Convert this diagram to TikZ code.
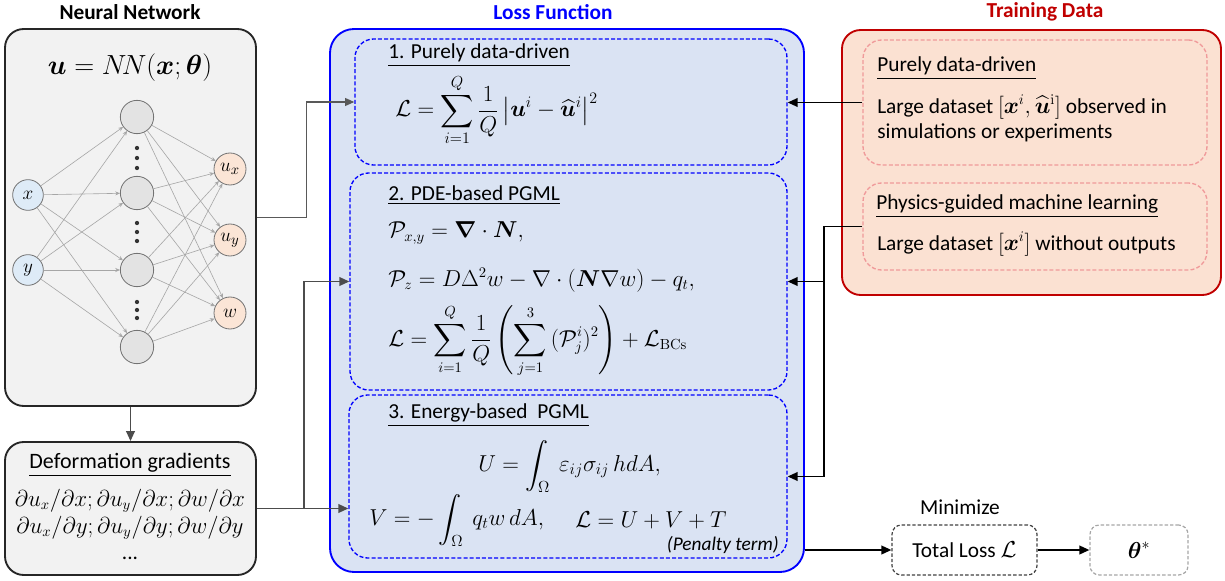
\documentclass[tikz,border=0pt]{standalone}
\usepackage[no-math]{fontspec}
\setmainfont{Carlito}
\usepackage{amsmath,bm}
\usetikzlibrary{arrows.meta,fit,calc}
\definecolor{nngray}{HTML}{F2F2F2}
\definecolor{lossfill}{HTML}{DAE3F3}
\definecolor{datafill}{HTML}{FBE1D2}
\definecolor{datared}{HTML}{C00000}
\definecolor{pinkdash}{HTML}{F09A9A}
\definecolor{infill}{HTML}{DEEBF7}
\definecolor{outfill}{HTML}{FBE5D6}
\definecolor{hidfill}{HTML}{E3E3E3}
\definecolor{lossblue}{HTML}{0000FF}
\begin{document}
\begin{tikzpicture}[x=0.75pt,y=-0.75pt,
  every node/.style={font=\fontsize{16}{19}\selectfont},
  ttl/.style={font=\bfseries\fontsize{16}{19}\selectfont},
  nnbox/.style={draw=black!85, fill=nngray, line width=1.4pt, rounded corners=14pt, inner sep=0pt},
  lossbox/.style={draw=lossblue, fill=lossfill, line width=1.4pt, rounded corners=18pt, inner sep=0pt},
  dbox/.style={draw=lossblue, line width=1pt, dash pattern=on 3pt off 1.6pt, rounded corners=14pt, inner sep=0pt},
  databox/.style={draw=datared, fill=datafill, line width=1.4pt, rounded corners=14pt, inner sep=0pt},
  pinkbox/.style={draw=pinkdash, line width=1pt, dash pattern=on 3pt off 1.6pt, rounded corners=14pt, inner sep=0pt},
  tlbox/.style={draw=black!75, line width=0.9pt, dash pattern=on 2.5pt off 1.5pt, rounded corners=7pt, inner sep=0pt},
  thbox/.style={draw=black!35, line width=0.9pt, dash pattern=on 2.5pt off 1.5pt, rounded corners=7pt, inner sep=0pt},
  neuron/.style={circle, draw=black!55, line width=0.6pt, inner sep=0pt, font=\fontsize{15}{17}\selectfont},
  innode/.style={neuron, fill=infill, minimum size=23pt},
  hidnode/.style={neuron, fill=hidfill, minimum size=25pt},
  outnode/.style={neuron, fill=outfill, minimum size=24pt},
  nnedge/.style={draw=black!35, line width=0.45pt, -{Stealth[length=3.5pt,width=3pt]}},
  connthin/.style={draw=black!65, line width=0.8pt, -{Triangle[length=7pt,width=6pt]}},
  conngray/.style={draw=black!70, line width=1.3pt, -{Triangle[length=7.5pt,width=6.5pt]}},
  connblk/.style={draw=black, line width=1.3pt, -{Triangle[length=7.5pt,width=6.5pt]}},
  txt/.style={anchor=west, inner sep=0pt},
  mathbig/.style={anchor=west, inner sep=0pt, font=\fontsize{16}{18}\selectfont},
  dotc/.style={circle, fill=black!80, inner sep=0pt, minimum size=3.2pt}
]
\useasboundingbox (0,0) rectangle (1225,581);

% titles
\node[ttl] (tnn) at (130,12) {Neural Network};
\node[ttl, text=lossblue] (tloss) at (553,12) {Loss Function};
\node[ttl, text=datared] (tdata) at (1045,12) {Training Data};

% main panels
\node[nnbox, fit={(5,29)(256,406)}] (nn) {};
\node[nnbox, fit={(5,442)(256,575)}] (def) {};
\node[lossbox, fit={(330,29)(804,572)}] (loss) {};
\node[dbox, fit={(355,39)(787,165)}] (b1) {};
\node[dbox, fit={(350,173)(787,390)}] (b2) {};
\node[dbox, fit={(349,395)(787,558)}] (b3) {};
\node[databox, fit={(842,30)(1221,295)}] (data) {};
\node[pinkbox, fit={(863,40)(1207,165)}] (pa) {};
\node[pinkbox, fit={(863,183)(1207,270)}] (pb) {};
\node[tlbox, fit={(892,525)(1037,575)}] (tl) {};
\node[thbox, fit={(1090,525)(1188,575)}] (th) {};

% neural network
\node[font=\fontsize{21}{24}\selectfont] (nnf) at (130,68) {$\boldsymbol{u} = N\!N(\boldsymbol{x};\boldsymbol{\theta})$};
\node[innode] (ix) at (28,195) {$x$};
\node[innode] (iy) at (28,270) {$y$};
\node[hidnode] (h1) at (137,117) {};
\node[hidnode] (h2) at (137,193) {};
\node[hidnode] (h3) at (137,270) {};
\node[hidnode] (h4) at (137,347) {};
\node[outnode] (o1) at (230,169) {$u_x$};
\node[outnode] (o2) at (230,240) {$u_y$};
\node[outnode] (o3) at (230,313) {$w$};
\foreach \i in {ix,iy}{\foreach \h in {h1,h2,h3,h4}{\draw[nnedge] (\i) -- (\h);}}
\foreach \h in {h1,h2,h3,h4}{\foreach \o in {o1,o2,o3}{\draw[nnedge] (\h) -- (\o);}}
\foreach \yy [count=\k] in {148,158,168,223,232,241,302,310,318}{\node[dotc] (d\k) at (137,\yy) {};}

% deformation gradients
\node[font=\fontsize{16.5}{19}\selectfont] (deft) at (130,465) {\underline{Deformation gradients}};
\node[font=\fontsize{16.3}{19}\selectfont] (defl1) at (130,501) {$\partial u_x/\partial x;\partial u_y/\partial x;\partial w/\partial x$};
\node[font=\fontsize{16.3}{19}\selectfont] (defl2) at (130,528) {$\partial u_x/\partial y;\partial u_y/\partial y;\partial w/\partial y$};
\node (defl3) at (130,558) {...};

% loss box 1
\node[txt] (h1t) at (388,55) {\underline{1. Purely data-driven}};
\node[mathbig, font=\fontsize{18.5}{21}\selectfont] (f1) at (395,110) {$\displaystyle \mathcal{L} = \sum_{i=1}^{Q}\frac{1}{Q}\left|\boldsymbol{u}^i-\widehat{\boldsymbol{u}}^i\right|^2$};

% loss box 2
\node[txt] (h2t) at (388,195) {\underline{2. PDE-based PGML}};
\node[mathbig] (f2a) at (388,233) {$\mathcal{P}_{x,y} = \boldsymbol{\nabla}\cdot\boldsymbol{N},$};
\node[mathbig] (f2b) at (388,280) {$\mathcal{P}_{z} = D\Delta^2 w - \nabla\cdot(\boldsymbol{N}\nabla w) - q_t,$};
\node[mathbig] (f2c) at (388,341) {$\displaystyle \mathcal{L} = \sum_{i=1}^{Q}\frac{1}{Q}\left(\sum_{j=1}^{3}\,(\mathcal{P}_j^i)^2\right) + \mathcal{L}_{\mathrm{BCs}}$};

% loss box 3
\node[txt] (h3t) at (388,415) {\underline{3. Energy-based\ \ PGML}};
\node[mathbig, font=\fontsize{17}{20}\selectfont] (f3a) at (478,466) {$\displaystyle U = \int_{\Omega}\ \varepsilon_{ij}\sigma_{ij}\,h dA,$};
\node[mathbig, font=\fontsize{17}{20}\selectfont] (f3b) at (369,520) {$\displaystyle V = -\int_{\Omega}\ q_t w\, dA,$};
\node[mathbig, font=\fontsize{17}{20}\selectfont] (f3c) at (575,520) {$\mathcal{L} = U + V + T$};
\node[anchor=east, inner sep=0pt, font=\itshape\fontsize{14.5}{16}\selectfont] (pen) at (779,545) {(Penalty term)};

% training data
\node[txt] (pat) at (877,68) {\underline{Purely data-driven}};
\node[txt] (pal1) at (877,107) {Large dataset $[\boldsymbol{x}^i,\widehat{\boldsymbol{u}}^{\mathrm{i}}]$ observed in};
\node[txt] (pal2) at (877,133) {simulations or experiments};
\node[txt] (pbt) at (876,206) {\underline{Physics-guided machine learning}};
\node[txt] (pbl) at (877,244) {Large dataset $[\boldsymbol{x}^i]$ without outputs};

% bottom right
\node (mini) at (960,507) {Minimize};
\node (tlt) at (tl) {Total Loss $\mathcal{L}$};
\node[font=\fontsize{17}{20}\selectfont] (tht) at (th) {$\boldsymbol{\theta}^*$};

% connectors
\draw[connthin] (nn.east) -- ++(50,0) |- (b1.west);
\draw[conngray] (nn.south) -- (def.north);
\draw[conngray] (def.east) -- ++(47,0) coordinate (dj) |- (b2.west);
\draw[conngray] (dj) -- (dj -| b3.west);
\draw[connblk] (pa.west) -- (pa.west -| b1.east);
\draw[connblk] (pb.west) -- ++(-38,0) coordinate (pj) |- (b2.east);
\draw[connblk] (pj) |- (b3.east);
\draw[connblk] (tl.west -| loss.east) -- (tl.west);
\draw[connblk] (tl.east) -- (th.west);
\end{tikzpicture}
\end{document}
